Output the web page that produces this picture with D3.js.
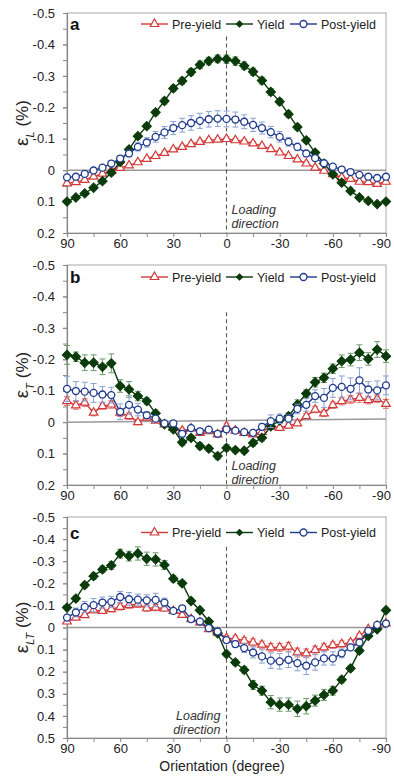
<!DOCTYPE html>
<html>
<head>
<meta charset="utf-8">
<script src="https://cdn.jsdelivr.net/npm/d3@7"></script>
<style>
  body { margin: 0; background: #fff; }
  svg { display: block; font-family: "Liberation Sans", Arial, sans-serif; }
</style>
</head>
<body>
<div id="chart"></div>
<script>
// Orientation categories (degrees)
const angles = [90, 85, 80, 75, 70, 65, 60, 55, 50, 45, 40, 35, 30, 25, 20, 15, 10, 5, 0,
  -5, -10, -15, -20, -25, -30, -35, -40, -45, -50, -55, -60, -65, -70, -75, -80, -85, -90];

const seriesNames = ['Pre-yield', 'Yield', 'Post-yield'];

// Panel a: eps_L (%)
const aPre = [0.042, 0.038, 0.031, 0.021, 0.011, 0.001, -0.007, -0.015, -0.025, -0.036, -0.045, -0.055, -0.066,
  -0.074, -0.083, -0.090, -0.095, -0.097, -0.099, -0.095, -0.091, -0.085, -0.077, -0.067, -0.056, -0.045,
  -0.034, -0.021, -0.008, 0.002, 0.013, 0.023, 0.028, 0.037, 0.038, 0.044, 0.037];
const aYield = [0.100, 0.087, 0.074, 0.056, 0.035, 0.008, -0.026, -0.066, -0.108, -0.140, -0.184, -0.220, -0.260,
  -0.284, -0.312, -0.335, -0.347, -0.354, -0.353, -0.347, -0.332, -0.313, -0.285, -0.249, -0.218, -0.178,
  -0.137, -0.095, -0.056, -0.021, 0.013, 0.040, 0.066, 0.087, 0.098, 0.108, 0.100];
const aPost = [0.023, 0.021, 0.012, 0.001, -0.008, -0.021, -0.037, -0.053, -0.074, -0.088, -0.106, -0.120, -0.134,
  -0.143, -0.150, -0.157, -0.162, -0.164, -0.163, -0.161, -0.154, -0.144, -0.134, -0.121, -0.106, -0.090,
  -0.074, -0.053, -0.038, -0.022, -0.011, -0.002, 0.006, 0.015, 0.021, 0.025, 0.021];
const aPreErr = [0.004, 0.004, 0.004, 0.004, 0.004, 0.004, 0.004, 0.005, 0.005, 0.005, 0.005, 0.006, 0.006,
  0.006, 0.006, 0.006, 0.006, 0.006, 0.006, 0.006, 0.006, 0.006, 0.006, 0.006, 0.005, 0.005,
  0.005, 0.005, 0.004, 0.004, 0.004, 0.004, 0.004, 0.004, 0.004, 0.004, 0.004];
const aYieldErr = [0.005, 0.005, 0.005, 0.005, 0.005, 0.006, 0.006, 0.007, 0.008, 0.008, 0.009, 0.010, 0.010,
  0.011, 0.011, 0.012, 0.012, 0.012, 0.013, 0.013, 0.012, 0.012, 0.011, 0.011, 0.010, 0.010,
  0.009, 0.008, 0.007, 0.006, 0.006, 0.005, 0.005, 0.005, 0.005, 0.005, 0.005];
const aPostErr = [0.005, 0.005, 0.005, 0.005, 0.006, 0.007, 0.008, 0.010, 0.013, 0.015, 0.017, 0.019, 0.021,
  0.022, 0.023, 0.024, 0.025, 0.025, 0.025, 0.024, 0.022, 0.021, 0.019, 0.018, 0.017, 0.014,
  0.012, 0.010, 0.008, 0.007, 0.006, 0.005, 0.005, 0.005, 0.005, 0.005, 0.005];

// Panel b: eps_T (%)
const bPre = [-0.067, -0.053, -0.062, -0.030, -0.051, -0.056, -0.030, -0.019, 0.000, -0.014, -0.005, 0.007, 0.018,
  0.027, 0.020, 0.034, 0.029, 0.039, 0.013, 0.027, 0.034, 0.039, 0.031, 0.015, 0.018, 0.011,
  0.004, -0.019, -0.040, -0.028, -0.054, -0.067, -0.072, -0.077, -0.070, -0.074, -0.058];
const bYield = [-0.214, -0.208, -0.189, -0.189, -0.176, -0.187, -0.115, -0.104, -0.083, -0.067, -0.028, 0.007, 0.023,
  0.064, 0.050, 0.076, 0.084, 0.108, 0.082, 0.089, 0.091, 0.066, 0.050, 0.013, -0.006, -0.019,
  -0.056, -0.091, -0.127, -0.141, -0.170, -0.194, -0.199, -0.221, -0.201, -0.231, -0.210];
const bPost = [-0.106, -0.099, -0.097, -0.093, -0.088, -0.086, -0.033, -0.055, -0.040, -0.022, -0.011, 0.004, 0.004,
  0.037, 0.019, 0.029, 0.024, 0.037, 0.023, 0.027, 0.032, 0.034, 0.015, -0.003, -0.011, -0.011,
  -0.042, -0.055, -0.083, -0.077, -0.109, -0.112, -0.106, -0.133, -0.104, -0.101, -0.117];
const bPreErr = [0.014, 0.012, 0.012, 0.010, 0.010, 0.012, 0.012, 0.010, 0.008, 0.008, 0.006, 0.006, 0.006,
  0.008, 0.006, 0.006, 0.006, 0.006, 0.010, 0.006, 0.006, 0.006, 0.006, 0.006, 0.006, 0.006,
  0.006, 0.008, 0.010, 0.010, 0.010, 0.012, 0.012, 0.014, 0.012, 0.012, 0.014];
const bYieldErr = [0.030, 0.015, 0.025, 0.025, 0.025, 0.030, 0.020, 0.025, 0.015, 0.010, 0.010, 0.008, 0.008,
  0.010, 0.008, 0.010, 0.010, 0.010, 0.010, 0.008, 0.008, 0.010, 0.010, 0.010, 0.010, 0.010,
  0.015, 0.012, 0.015, 0.015, 0.015, 0.020, 0.020, 0.025, 0.020, 0.025, 0.020];
const bPostErr = [0.040, 0.030, 0.030, 0.030, 0.025, 0.025, 0.025, 0.030, 0.020, 0.010, 0.010, 0.008, 0.008,
  0.010, 0.008, 0.008, 0.008, 0.008, 0.008, 0.008, 0.008, 0.008, 0.010, 0.020, 0.015, 0.012,
  0.015, 0.020, 0.020, 0.030, 0.030, 0.035, 0.035, 0.040, 0.025, 0.030, 0.030];

// Panel c: eps_LT (%)
const cPre = [-0.027, -0.045, -0.056, -0.078, -0.075, -0.083, -0.093, -0.101, -0.105, -0.087, -0.090, -0.086, -0.075,
  -0.057, -0.038, -0.023, 0.008, 0.023, 0.048, 0.050, 0.060, 0.068, 0.078, 0.090, 0.090, 0.087,
  0.113, 0.117, 0.102, 0.090, 0.080, 0.075, 0.068, 0.038, 0.008, -0.008, -0.018];
const cYield = [-0.090, -0.131, -0.192, -0.232, -0.263, -0.281, -0.334, -0.323, -0.335, -0.311, -0.308, -0.283, -0.221,
  -0.200, -0.120, -0.078, -0.027, 0.026, 0.120, 0.158, 0.192, 0.260, 0.286, 0.338, 0.349, 0.349,
  0.368, 0.356, 0.331, 0.305, 0.286, 0.236, 0.185, 0.105, 0.038, 0.008, -0.078];
const cPost = [-0.045, -0.068, -0.093, -0.101, -0.113, -0.116, -0.138, -0.128, -0.126, -0.123, -0.125, -0.113, -0.075,
  -0.087, -0.038, -0.027, 0.003, 0.018, 0.057, 0.075, 0.093, 0.113, 0.131, 0.150, 0.153, 0.146,
  0.161, 0.173, 0.158, 0.140, 0.140, 0.117, 0.090, 0.068, 0.015, -0.012, -0.018];
const cPreErr = [0.008, 0.008, 0.010, 0.012, 0.012, 0.012, 0.014, 0.014, 0.014, 0.014, 0.014, 0.012, 0.010,
  0.010, 0.008, 0.008, 0.008, 0.010, 0.012, 0.012, 0.014, 0.016, 0.016, 0.018, 0.018, 0.020,
  0.020, 0.020, 0.018, 0.016, 0.014, 0.014, 0.012, 0.010, 0.008, 0.008, 0.008];
const cYieldErr = [0.010, 0.012, 0.012, 0.015, 0.015, 0.018, 0.020, 0.022, 0.030, 0.030, 0.030, 0.020, 0.015,
  0.012, 0.012, 0.010, 0.010, 0.010, 0.010, 0.012, 0.015, 0.020, 0.020, 0.030, 0.030, 0.030,
  0.035, 0.035, 0.025, 0.025, 0.020, 0.015, 0.012, 0.012, 0.010, 0.010, 0.010];
const cPostErr = [0.012, 0.020, 0.025, 0.030, 0.025, 0.025, 0.025, 0.030, 0.025, 0.025, 0.030, 0.020, 0.012,
  0.012, 0.010, 0.010, 0.010, 0.010, 0.012, 0.015, 0.020, 0.025, 0.030, 0.035, 0.035, 0.035,
  0.035, 0.040, 0.035, 0.030, 0.030, 0.020, 0.015, 0.012, 0.010, 0.010, 0.010];

// Horizontal reference line (value at 90 and at -90)
const aRefLine = [0, 0];
const bRefLine = [0, -0.01];
const cRefLine = [0, 0];

const xTicks = [90, 60, 30, 0, -30, -60, -90];

// ---- layout ----
const width = 394, height = 779;
const left = 67, right = 386;

const panels = [
  { label: 'a', sub: 'L', top: 13, bottom: 233, domain: [-0.5, 0.2], dashTop: -0.425,
    series: [aPre, aYield, aPost], errs: [aPreErr, aYieldErr, aPostErr], ref: aRefLine,
    legendY: 24, loadAnchor: 'start', loadX: 5, loadY: [214, 227.5] },
  { label: 'b', sub: 'T', top: 265, bottom: 485, domain: [-0.5, 0.2], dashTop: -0.35,
    series: [bPre, bYield, bPost], errs: [bPreErr, bYieldErr, bPostErr], ref: bRefLine,
    legendY: 277, loadAnchor: 'start', loadX: 5, loadY: [469.5, 484] },
  { label: 'c', sub: 'LT', top: 517, bottom: 738, domain: [-0.5, 0.5], dashTop: -0.365,
    series: [cPre, cYield, cPost], errs: [cPreErr, cYieldErr, cPostErr], ref: cRefLine,
    legendY: 532.5, loadAnchor: 'end', loadX: -6, loadY: [719.5, 733.5] }
];

const styles = [
  { line: '#d23a3a', err: '#e07a78', fill: '#fff', symbol: d3.symbolTriangle, size: 32, rotate: 0, sw: 1.2 },
  { line: '#0b3b0b', err: '#6b9a6b', fill: '#0b3b0b', symbol: d3.symbolSquare, size: 44, rotate: 45, sw: 1 },
  { line: '#1f3b8c', err: '#8aa0d4', fill: '#fff', symbol: d3.symbolCircle, size: 38, rotate: 0, sw: 1.3 }
];

const svg = d3.select('#chart').append('svg')
  .attr('width', width)
  .attr('height', height);

const x = d3.scaleLinear().domain([90, -90]).range([left, right]);

const fmt = d => String(+d.toFixed(1));

panels.forEach(p => {
  const y = d3.scaleLinear().domain(p.domain).range([p.top, p.bottom]);
  const g = svg.append('g');

  // frame
  g.append('rect')
    .attr('x', left).attr('y', p.top)
    .attr('width', right - left).attr('height', p.bottom - p.top)
    .attr('fill', 'none').attr('stroke', '#a8a8a8').attr('stroke-width', 1);

  // minor y ticks
  const minor = d3.range(Math.round(p.domain[0] * 20), Math.round(p.domain[1] * 20) + 1).map(v => v / 20);
  g.append('g')
    .attr('transform', `translate(${left},0)`)
    .call(d3.axisLeft(y).tickValues(minor).tickSize(4).tickFormat(''))
    .call(s => s.select('.domain').remove())
    .call(s => s.selectAll('line').attr('stroke', '#888'));

  // major y axis
  const major = minor.filter((v, i) => i % 2 === 0);
  g.append('g')
    .attr('transform', `translate(${left},0)`)
    .call(d3.axisLeft(y).tickValues(major).tickSize(4).tickPadding(8).tickFormat(fmt))
    .call(s => s.select('.domain').attr('stroke', '#888').attr('stroke-width', 1.2))
    .call(s => s.selectAll('line').attr('stroke', '#888'))
    .call(s => s.selectAll('text').attr('fill', '#222').style('font-size', '13px'));

  // x axis
  g.append('g')
    .attr('transform', `translate(0,${p.bottom})`)
    .call(d3.axisBottom(x).tickValues(d3.range(90, -91, -15)).tickSize(4).tickPadding(2)
      .tickFormat(d => xTicks.includes(d) ? String(d) : ''))
    .call(s => s.select('.domain').attr('stroke', '#888').attr('stroke-width', 1.2))
    .call(s => s.selectAll('line').attr('stroke', '#888'))
    .call(s => s.selectAll('text').attr('fill', '#222').style('font-size', '13px'))
    .call(s => s.selectAll('text').filter(d => d === -90).attr('dx', -5));

  // zero reference line
  g.append('line')
    .attr('x1', x(90)).attr('x2', x(-90))
    .attr('y1', y(p.ref[0])).attr('y2', y(p.ref[1]))
    .attr('stroke', '#999').attr('stroke-width', 1.5);

  // loading direction dashed line
  g.append('line')
    .attr('x1', x(0)).attr('x2', x(0))
    .attr('y1', y(p.dashTop)).attr('y2', p.bottom)
    .attr('stroke', '#555').attr('stroke-width', 1.1).attr('stroke-dasharray', '4,3');

  const lt = g.append('text')
    .attr('text-anchor', p.loadAnchor)
    .attr('fill', '#333')
    .style('font-size', '12.5px')
    .style('font-style', 'italic');
  lt.append('tspan').attr('x', x(0) + p.loadX).attr('y', p.loadY[0]).text('Loading');
  lt.append('tspan').attr('x', x(0) + p.loadX).attr('y', p.loadY[1]).text('direction');

  // series: error bars, line, markers
  p.series.forEach((vals, si) => {
    const st = styles[si];
    const errs = p.errs[si];
    const pts = angles.map((a, i) => ({ a, v: vals[i], e: errs[i] }));
    const eg = g.append('g').attr('stroke', st.err).attr('stroke-width', 1);
    pts.forEach(d => {
      const cx = x(d.a), y1 = y(d.v - d.e), y2 = y(d.v + d.e);
      eg.append('line').attr('x1', cx).attr('x2', cx).attr('y1', y1).attr('y2', y2);
      eg.append('line').attr('x1', cx - 3).attr('x2', cx + 3).attr('y1', y1).attr('y2', y1);
      eg.append('line').attr('x1', cx - 3).attr('x2', cx + 3).attr('y1', y2).attr('y2', y2);
    });
    g.append('path')
      .datum(pts)
      .attr('fill', 'none')
      .attr('stroke', st.line)
      .attr('stroke-width', 1.4)
      .attr('d', d3.line().x(d => x(d.a)).y(d => y(d.v)));
    g.append('g').selectAll('path')
      .data(pts)
      .join('path')
      .attr('transform', d => `translate(${x(d.a)},${y(d.v)}) rotate(${st.rotate})`)
      .attr('d', d3.symbol(st.symbol, st.size))
      .attr('fill', st.fill)
      .attr('stroke', st.line)
      .attr('stroke-width', st.sw);
  });

  // legend
  const legendItems = [
    { x0: 141, x1: 168, tx: 172 },
    { x0: 226, x1: 253, tx: 257 },
    { x0: 290, x1: 317, tx: 321 }
  ];
  legendItems.forEach((it, si) => {
    const st = styles[si];
    const lg = g.append('g');
    lg.append('line')
      .attr('x1', it.x0).attr('x2', it.x1)
      .attr('y1', p.legendY).attr('y2', p.legendY)
      .attr('stroke', st.line).attr('stroke-width', 1.4);
    lg.append('path')
      .attr('transform', `translate(${(it.x0 + it.x1) / 2},${p.legendY}) rotate(${st.rotate})`)
      .attr('d', d3.symbol(st.symbol, si === 1 ? 20 : st.size))
      .attr('fill', st.fill).attr('stroke', st.line).attr('stroke-width', st.sw);
    lg.append('text')
      .attr('x', it.tx).attr('y', p.legendY + 4.5)
      .attr('fill', '#222')
      .style('font-size', '12.5px')
      .text(seriesNames[si]);
  });

  // panel label
  g.append('text')
    .attr('x', 70).attr('y', p.legendY + 6)
    .attr('fill', '#111')
    .style('font-size', '17px')
    .style('font-weight', 'bold')
    .text(p.label);

  // y title
  const yt = g.append('text')
    .attr('transform', `translate(28,${(p.top + p.bottom) / 2}) rotate(-90)`)
    .attr('text-anchor', 'middle')
    .attr('fill', '#222')
    .style('font-size', '17px');
  yt.append('tspan').style('font-size', '19px').text('ε');
  yt.append('tspan').attr('baseline-shift', 'sub').style('font-size', '11px').style('font-style', 'italic').text(p.sub);
  yt.append('tspan').text(' (%)');
});

svg.append('text')
  .attr('x', 222).attr('y', 771)
  .attr('text-anchor', 'middle')
  .attr('fill', '#222')
  .style('font-size', '14px')
  .text('Orientation (degree)');
</script>
</body>
</html>
